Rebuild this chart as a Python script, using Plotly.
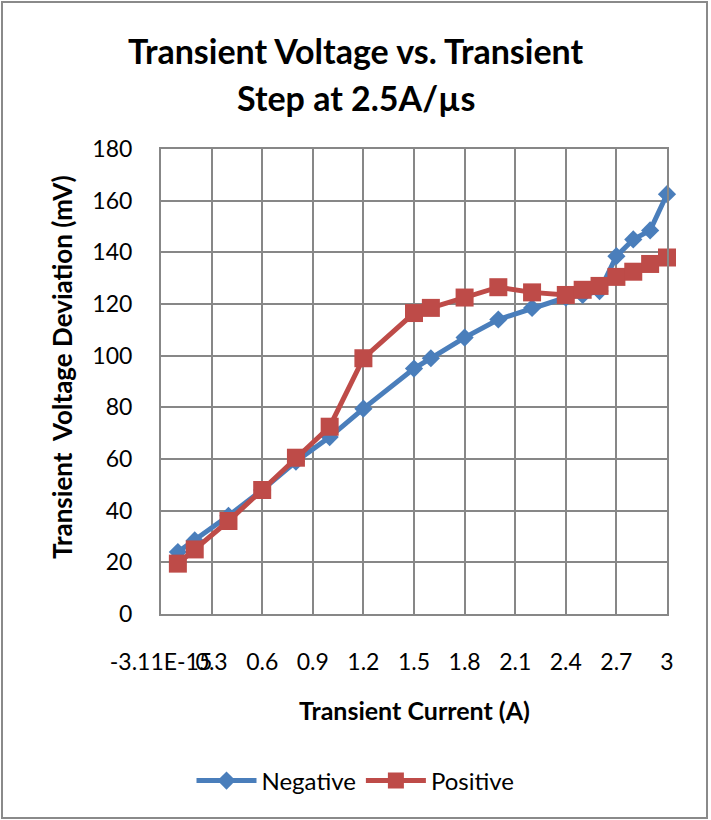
import plotly.graph_objects as go

# Transient step current (A) and measured voltage deviation (mV)
current_a = [0.1, 0.2, 0.4, 0.6, 0.8, 1.0, 1.2, 1.5, 1.6, 1.8, 2.0,
             2.2, 2.4, 2.5, 2.6, 2.7, 2.8, 2.9, 3.0]
negative_mv = [24, 28.5, 38, 48, 59, 68.5, 79.5, 95, 99, 107, 114,
               118.5, 122.5, 123.5, 125, 138.5, 145, 148.5, 162.5]
positive_mv = [19.5, 25, 36, 48, 60.5, 72.5, 99, 116.5, 118.5, 122.5, 126.5,
               124.5, 123.5, 125.5, 127, 130.5, 132.5, 135.5, 138]

x_tick_vals = [0, 0.3, 0.6, 0.9, 1.2, 1.5, 1.8, 2.1, 2.4, 2.7, 3.0]
x_tick_text = ["-3.11E-15", "0.3", "0.6", "0.9", "1.2", "1.5", "1.8",
               "2.1", "2.4", "2.7", "3"]
y_tick_vals = list(range(0, 181, 20))

W, H = 711, 820
L, R, T, B = 161, 667, 149, 614  # plot area in pixels


def px(x):
    return (x - L) / (R - L)


def py(y):
    return (B - y) / (B - T)


FONT = "Lato"
BLUE = "#4A7EBB"
RED = "#BE4B48"
GRID = "#878787"

fig = go.Figure()
fig.add_trace(go.Scatter(
    x=current_a, y=negative_mv, name="Negative", mode="lines+markers",
    line=dict(color=BLUE, width=5),
    marker=dict(symbol="diamond", size=14, color=BLUE),
    cliponaxis=False,
))
fig.add_trace(go.Scatter(
    x=current_a, y=positive_mv, name="Positive", mode="lines+markers",
    line=dict(color=RED, width=5),
    marker=dict(symbol="square", size=18, color=RED),
    cliponaxis=False,
))

fig.update_layout(
    width=W, height=H,
    margin=dict(l=L, r=W - R, t=T, b=H - B),
    paper_bgcolor="white", plot_bgcolor="white",
    font=dict(family=FONT, color="black"),
    showlegend=True,
    legend=dict(
        orientation="h", xref="container", yref="container",
        x=0.5, xanchor="center", y=1 - 781 / H, yanchor="middle",
        font=dict(size=24, family=FONT, color="black"),
        itemwidth=60,
    ),
    xaxis=dict(
        range=[0, 3], tickvals=x_tick_vals, ticktext=x_tick_text,
        tickangle=0,
        showgrid=True, gridcolor=GRID, gridwidth=2,
        showline=True, linecolor=GRID, linewidth=2, mirror=True,
        zeroline=False, ticks="", ticklabelstandoff=26,
        tickfont=dict(size=23, family=FONT, color="black"),
    ),
    yaxis=dict(
        range=[0, 180], tickvals=y_tick_vals,
        showgrid=True, gridcolor=GRID, gridwidth=2,
        showline=True, linecolor=GRID, linewidth=2, mirror=True,
        zeroline=False, ticks="", ticklabelstandoff=22,
        tickfont=dict(size=23, family=FONT, color="black"),
    ),
    shapes=[dict(
        type="rect", xref="paper", yref="paper",
        x0=px(2), x1=px(707), y0=py(818), y1=py(2),
        line=dict(color="#8a8a8a", width=2), fillcolor="rgba(0,0,0,0)",
        layer="below",
    )],
    annotations=[
        dict(text="<b>Transient Voltage vs. Transient</b>", xref="paper",
             yref="paper", x=px(356), y=py(50), showarrow=False,
             xanchor="center", yanchor="middle",
             font=dict(size=34, family=FONT, color="black")),
        dict(text="<b>Step at 2.5A/µs</b>", xref="paper",
             yref="paper", x=px(356), y=py(97), showarrow=False,
             xanchor="center", yanchor="middle",
             font=dict(size=34, family=FONT, color="black")),
        dict(text="<b>Transient  Voltage Deviation (mV)</b>", xref="paper",
             yref="paper", x=px(62), y=py(367), showarrow=False,
             textangle=-90, xanchor="center", yanchor="middle",
             font=dict(size=26, family=FONT, color="black")),
        dict(text="<b>Transient Current (A)</b>", xref="paper",
             yref="paper", x=px(414), y=py(710), showarrow=False,
             xanchor="center", yanchor="middle",
             font=dict(size=25, family=FONT, color="black")),
    ],
)

fig.write_html("out.html")
